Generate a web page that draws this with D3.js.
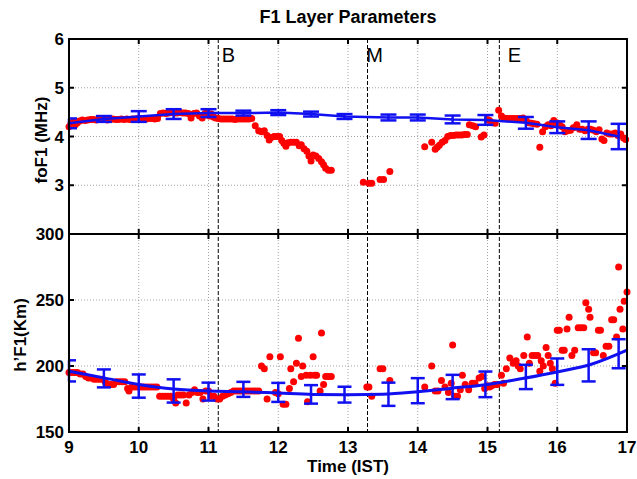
<!DOCTYPE html>
<html>
<head>
<meta charset="utf-8">
<script src="https://cdn.jsdelivr.net/npm/d3@7"></script>
<style>
body { margin: 0; background: #fff; }
text { font-family: Arial, "Liberation Sans", sans-serif; }
</style>
</head>
<body>
<svg id="chart" width="637" height="479"></svg>
<script>
// hours on the x axis
var hourTicks = [9, 10, 11, 12, 13, 14, 15, 16, 17];
var foF1Ticks = [3, 4, 5, 6];
var hF1Ticks = [150, 200, 250, 300];

// eclipse begin / maximum / end
var eclipseTimes = [11.14, 13.28, 15.17];
var eclipseNames = ["B", "M", "E"];
var eclipseLabelAt = [11.19, 13.26, 15.29];

// reference day: mean and spread (error bars)
var meanTimes = [9, 9.5, 10, 10.5, 11, 11.5, 12, 12.47, 12.95, 13.58, 14, 14.5, 14.97, 15.55, 16, 16.45, 16.88];
var foF1Mean = [4.27, 4.36, 4.41, 4.46, 4.48, 4.48, 4.49, 4.46, 4.41, 4.39, 4.39, 4.35, 4.34, 4.28, 4.19, 4.13, 4.0];
var foF1Err = [0.1, 0.06, 0.11, 0.1, 0.08, 0.05, 0.05, 0.05, 0.05, 0.06, 0.06, 0.08, 0.1, 0.12, 0.12, 0.18, 0.26];
var hF1Mean = [196.3, 190.6, 184.8, 181.1, 180.6, 182.3, 180, 178.5, 178.3, 178.6, 181.3, 184.1, 186.1, 191.7, 195.7, 200.5, 209.3];
var hF1Err = [8, 6.8, 8.8, 8.8, 6.8, 5.7, 7.2, 7, 6, 8.8, 9.5, 9.2, 9.7, 9.2, 10, 12.2, 11];

// smooth fit through the reference h'F1
var fitTimes = [9, 9.5, 10, 10.5, 11, 11.5, 12, 12.5, 13, 13.5, 14, 14.5, 15, 15.5, 16, 16.5, 17];
var fitValues = [196, 191, 186, 182.5, 181, 180.5, 179.5, 178.5, 178.3, 178.6, 180.5, 183.2, 186, 190.5, 195.5, 201.5, 212];

// eclipse day observations [hour, value]
var foF1Obs = [[9.00,4.2],[9.03,4.27],[9.06,4.3],[9.09,4.24],[9.12,4.28],[9.15,4.32],[9.19,4.34],[9.23,4.33],[9.27,4.34],[9.31,4.35],[9.35,4.35],[9.39,4.34],[9.43,4.35],[9.47,4.36],[9.51,4.35],[9.55,4.34],[9.59,4.35],[9.63,4.36],[9.67,4.35],[9.71,4.35],[9.75,4.36],[9.79,4.35],[9.83,4.36],[9.87,4.35],[9.91,4.36],[9.95,4.36],[9.99,4.37],[10.03,4.36],[10.07,4.37],[10.11,4.36],[10.15,4.37],[10.19,4.37],[10.23,4.36],[10.27,4.37],
  [10.31,4.47],[10.35,4.48],[10.39,4.47],[10.43,4.48],[10.47,4.49],[10.51,4.48],[10.55,4.48],[10.59,4.49],[10.63,4.48],[10.67,4.48],[10.71,4.47],[10.75,4.38],[10.79,4.47],[10.83,4.48],[10.87,4.42],[10.91,4.38],[10.95,4.47],[10.98,4.5],[11.01,4.42],[11.04,4.46],[11.07,4.4],[11.1,4.38],[11.14,4.37],[11.18,4.36],[11.22,4.36],[11.26,4.36],[11.3,4.36],[11.34,4.36],[11.38,4.35],[11.42,4.36],[11.46,4.36],[11.5,4.36],[11.54,4.36],[11.58,4.36],[11.62,4.37],
  [11.67,4.22],[11.72,4.12],[11.76,4.1],[11.8,4.12],[11.84,4.02],[11.87,3.93],[11.9,3.98],[11.94,4.0],[11.98,4.0],[12.02,4.0],[12.05,3.92],[12.08,3.86],[12.11,3.8],[12.14,3.87],[12.18,3.88],[12.22,3.88],[12.26,3.88],[12.3,3.81],[12.33,3.83],[12.37,3.75],[12.41,3.7],[12.44,3.6],[12.47,3.5],[12.5,3.62],[12.54,3.6],[12.58,3.55],[12.62,3.48],[12.65,3.42],[12.68,3.35],[12.72,3.31],[12.76,3.31],
  [13.22,3.06],[13.3,3.04],[13.34,3.04],[13.46,3.12],[13.51,3.12],[13.6,3.28],
  [14.1,3.79],[14.2,3.88],[14.25,3.74],[14.28,3.78],[14.31,3.82],[14.35,3.88],[14.39,3.92],[14.43,4.0],[14.47,4.02],[14.51,4.02],[14.55,4.03],[14.59,4.03],[14.63,4.03],[14.67,4.04],[14.71,4.04],[14.74,4.24],[14.79,4.22],[14.83,4.2],[14.91,3.99],[14.95,4.03],[15.0,4.35],[15.03,4.33],[15.07,4.28],[15.11,4.27],
  [15.16,4.54],[15.2,4.42],[15.23,4.38],[15.27,4.37],[15.31,4.37],[15.35,4.37],[15.39,4.37],[15.43,4.37],[15.47,4.37],[15.51,4.38],[15.55,4.35],[15.59,4.28],[15.63,4.27],[15.67,4.26],[15.71,4.25],[15.75,3.78],[15.79,4.1],[15.83,4.2],[15.87,4.24],[15.91,4.22],[15.95,4.33],[15.99,4.28],[16.03,4.25],[16.07,4.2],[16.11,4.1],[16.15,4.12],[16.19,4.13],[16.23,4.18],[16.28,4.24],[16.32,4.15],[16.36,4.15],[16.4,4.12],[16.44,4.15],[16.48,4.15],[16.52,4.13],[16.56,4.1],[16.6,4.14],[16.64,3.95],[16.67,3.92],[16.71,4.07],[16.75,4.05],[16.79,4.05],[16.83,4.07],[16.87,4.02],[16.91,4.05],[16.95,3.97],[16.98,3.94]];

var hF1Obs = [[9.0,195],[9.04,195],[9.08,195],[9.12,195],[9.16,194],[9.2,194],[9.24,192],[9.28,191],[9.32,191],[9.36,190],[9.4,190],[9.44,190],[9.48,190],[9.52,188],[9.56,186],[9.6,186],[9.64,186],[9.68,188],[9.72,188],[9.76,188],[9.8,188],[9.84,183],[9.86,181],[9.9,184],[9.94,184],[9.98,184],[10.02,184],[10.06,184],[10.1,184],[10.14,184],[10.18,184],[10.22,184],[10.26,184],
  [10.3,177],[10.34,177],[10.38,177],[10.42,177],[10.46,177],[10.5,175],[10.53,172],[10.56,178],[10.6,178],[10.64,178],[10.68,172],[10.72,178],[10.76,180],[10.8,182],[10.84,180],[10.88,180],[10.92,175],[10.96,181],[11.0,181],[11.04,177],[11.08,177],[11.12,175],[11.16,175],[11.2,177],[11.24,178],[11.28,179],[11.32,180],[11.36,181],[11.4,181],[11.44,181],[11.48,181],[11.52,181],[11.56,181],[11.6,181],[11.64,181],[11.68,181],[11.72,181],
  [11.76,200],[11.8,198],[11.84,175],[11.88,207],[11.96,180],[12.0,179],[12.03,207],[12.07,171],[12.11,171],[12.16,183],[12.18,198],[12.22,188],[12.26,202],[12.29,221],[12.33,192],[12.35,200],[12.4,193],[12.42,173],[12.46,193],[12.5,207],[12.52,193],[12.55,193],[12.6,181],[12.62,225],[12.65,186],[12.68,192],[12.72,192],[12.76,192],
  [13.27,184],[13.3,184],[13.34,177],[13.46,198],[13.5,198],[13.6,189],
  [14.1,184],[14.2,200],[14.25,181],[14.29,181],[14.34,189],[14.39,184],[14.44,180],[14.48,187],[14.5,216],[14.53,177],[14.57,177],[14.61,182],[14.64,193],[14.68,186],[14.73,182],[14.78,187],[14.82,187],[14.88,191],[14.92,192],[14.96,183],[15.0,185],[15.03,184],[15.06,185],[15.1,186],[15.14,186],
  [15.2,193],[15.23,187],[15.27,198],[15.32,206],[15.37,202],[15.41,204],[15.44,200],[15.47,198],[15.52,208],[15.57,222],[15.6,202],[15.64,208],[15.68,208],[15.72,208],[15.75,196],[15.77,204],[15.8,200],[15.84,214],[15.87,208],[15.9,202],[15.93,198],[15.97,187],[16.0,227],[16.03,227],[16.07,212],[16.1,212],[16.14,228],[16.17,237],[16.21,208],[16.25,212],[16.3,229],[16.34,229],[16.38,229],[16.41,248],[16.45,243],[16.47,237],[16.52,210],[16.55,210],[16.59,227],[16.62,227],[16.66,208],[16.7,215],[16.74,215],[16.78,235],[16.81,235],[16.85,222],[16.88,275],[16.9,243],[16.94,228],[16.96,249],[17.0,256]];

var svg = d3.select("#chart");
var left = 69, right = 627;
var topY0 = 39, midY = 234, botY1 = 432;
var blue = "#1010f0", red = "#ff0000";

var x = d3.scaleLinear().domain([9, 17]).range([left, right]);
var yTop = d3.scaleLinear().domain([2, 6]).range([midY, topY0]);
var yBot = d3.scaleLinear().domain([150, 300]).range([botY1, midY]);

// grid + ticks + frame for one panel
function panel(y, yTicks, y0, y1, showX) {
  var g = svg.append("g");
  g.selectAll(".vg").data(hourTicks.slice(1, -1)).enter().append("line")
    .attr("x1", x).attr("x2", x).attr("y1", y0).attr("y2", y1)
    .attr("stroke", "#999").attr("stroke-width", 0.9).attr("stroke-dasharray", "1,2");
  g.selectAll(".hg").data(yTicks.filter(function(d) { return y(d) > y0 + 1 && y(d) < y1 - 1; })).enter().append("line")
    .attr("x1", left).attr("x2", right).attr("y1", y).attr("y2", y)
    .attr("stroke", "#999").attr("stroke-width", 0.9).attr("stroke-dasharray", "1,2");

  var ax = g.append("g").attr("stroke", "#000").attr("stroke-width", 2);
  ax.selectAll(".tl").data(yTicks).enter().append("line")
    .attr("x1", left).attr("x2", left + 5).attr("y1", y).attr("y2", y);
  ax.selectAll(".tr").data(yTicks).enter().append("line")
    .attr("x1", right).attr("x2", right - 5).attr("y1", y).attr("y2", y);
  ax.selectAll(".tt").data(hourTicks).enter().append("line")
    .attr("x1", x).attr("x2", x).attr("y1", y0).attr("y2", y0 + 5);
  ax.selectAll(".tb").data(hourTicks).enter().append("line")
    .attr("x1", x).attr("x2", x).attr("y1", y1).attr("y2", y1 - 5);

  g.selectAll(".yl").data(yTicks).enter().append("text")
    .attr("x", left - 5).attr("y", function(d) { return y(d) + 6; })
    .attr("text-anchor", "end").attr("font-size", 17).attr("font-weight", "bold")
    .text(function(d) { return d; });

  if (showX) {
    g.selectAll(".xl").data(hourTicks).enter().append("text")
      .attr("x", x).attr("y", y1 + 21)
      .attr("text-anchor", "middle").attr("font-size", 17).attr("font-weight", "bold")
      .text(function(d) { return d; });
  }
  return g;
}

panel(yTop, foF1Ticks, topY0, midY, false);
panel(yBot, hF1Ticks, midY, botY1, true);

// eclipse markers
svg.selectAll(".ecl").data(eclipseTimes).enter().append("line")
  .attr("x1", x).attr("x2", x).attr("y1", topY0).attr("y2", botY1)
  .attr("stroke", "#000").attr("stroke-width", 1).attr("stroke-dasharray", "4,2");
svg.selectAll(".eclt").data(eclipseNames).enter().append("text")
  .attr("x", function(d, i) { return x(eclipseLabelAt[i]); }).attr("y", 62)
  .attr("font-size", 20).text(function(d) { return d; });

// red observations
svg.append("g").selectAll("circle").data(foF1Obs).enter().append("circle")
  .attr("cx", function(d) { return x(d[0]); }).attr("cy", function(d) { return yTop(d[1]); })
  .attr("r", 3.5).attr("fill", red);
svg.append("g").selectAll("circle").data(hF1Obs).enter().append("circle")
  .attr("cx", function(d) { return x(d[0]); }).attr("cy", function(d) { return yBot(d[1]); })
  .attr("r", 3.5).attr("fill", red);

// reference mean, foF1: straight segments
svg.append("path").datum(meanTimes)
  .attr("d", d3.line().x(function(d) { return x(d); }).y(function(d, i) { return yTop(foF1Mean[i]); }))
  .attr("fill", "none").attr("stroke", blue).attr("stroke-width", 2.5);

// reference fit, h'F1: smooth curve
svg.append("path").datum(fitTimes)
  .attr("d", d3.line().curve(d3.curveMonotoneX).x(function(d) { return x(d); }).y(function(d, i) { return yBot(fitValues[i]); }))
  .attr("fill", "none").attr("stroke", blue).attr("stroke-width", 3);

function errorBars(y, mean, err, cap) {
  var g = svg.append("g").attr("stroke", blue).attr("stroke-width", 2.5);
  meanTimes.forEach(function(t, i) {
    var cx = x(t), lo = y(mean[i] - err[i]), hi = y(mean[i] + err[i]);
    var l = Math.max(left, cx - cap), r = Math.min(right, cx + cap);
    g.append("line").attr("x1", cx).attr("x2", cx).attr("y1", lo).attr("y2", hi);
    g.append("line").attr("x1", l).attr("x2", r).attr("y1", lo).attr("y2", lo);
    g.append("line").attr("x1", l).attr("x2", r).attr("y1", hi).attr("y2", hi);
  });
}
errorBars(yTop, foF1Mean, foF1Err, 8);
errorBars(yBot, hF1Mean, hF1Err, 7);

// frames drawn last so they sit on top
svg.append("rect").attr("x", left).attr("y", topY0).attr("width", right - left).attr("height", midY - topY0)
  .attr("fill", "none").attr("stroke", "#000").attr("stroke-width", 2);
svg.append("rect").attr("x", left).attr("y", midY).attr("width", right - left).attr("height", botY1 - midY)
  .attr("fill", "none").attr("stroke", "#000").attr("stroke-width", 2);

// titles
svg.append("text").attr("x", (left + right) / 2).attr("y", 23)
  .attr("text-anchor", "middle").attr("font-size", 18).attr("font-weight", "bold")
  .text("F1 Layer Parameters");
svg.append("text").attr("x", (left + right) / 2).attr("y", 472)
  .attr("text-anchor", "middle").attr("font-size", 17).attr("font-weight", "bold")
  .text("Time (IST)");
svg.append("text").attr("transform", "translate(47,140) rotate(-90)")
  .attr("text-anchor", "middle").attr("font-size", 17).attr("font-weight", "bold")
  .text("foF1 (MHz)");
svg.append("text").attr("transform", "translate(26,335) rotate(-90)")
  .attr("text-anchor", "middle").attr("font-size", 17).attr("font-weight", "bold")
  .text("h\u2019F1(Km)");
</script>
</body>
</html>
